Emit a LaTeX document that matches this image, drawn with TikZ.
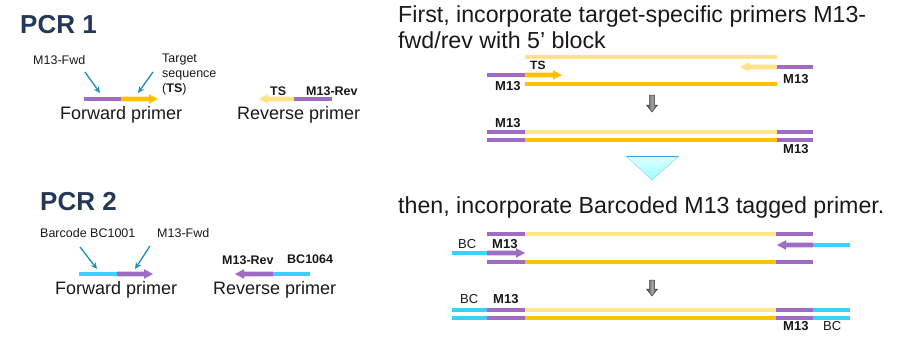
\documentclass[tikz,border=0pt]{standalone}
\usepackage{fontspec}
\setmainfont{Liberation Sans}
\usetikzlibrary{arrows.meta}
\definecolor{purp}{HTML}{9E6CC4}
\definecolor{gold}{HTML}{FFC000}
\definecolor{lgold}{HTML}{FFE38A}
\definecolor{cyanbc}{HTML}{3CCFFF}
\definecolor{ptr}{HTML}{1E8DB9}
\definecolor{navy}{HTML}{253858}
\definecolor{tribord}{HTML}{3AA8DC}
\newcommand{\dnaseg}[4]{\fill[#4] (#1,#3-2.4) rectangle (#2,#3+2.4);}
\newcommand{\dnaright}[4]{\fill[#4] (#1,#3-2.4) -- (#2-9,#3-2.4) -- (#2-9,#3-4.8) -- (#2,#3) -- (#2-9,#3+4.8) -- (#2-9,#3+2.4) -- (#1,#3+2.4) -- cycle;}
\newcommand{\dnaleft}[4]{\fill[#4] (#2,#3-2.4) -- (#1+9,#3-2.4) -- (#1+9,#3-4.8) -- (#1,#3) -- (#1+9,#3+4.8) -- (#1+9,#3+2.4) -- (#2,#3+2.4) -- cycle;}
\newcommand{\downarr}[3]{\shade[draw=black!75, left color=black!75, right color=black!75, middle color=black!35, line width=0.5pt] (#1-2.5,#2) -- (#1+2.5,#2) -- (#1+2.5,#3-7) -- (#1+5.5,#3-7) -- (#1,#3) -- (#1-5.5,#3-7) -- (#1-2.5,#3-7) -- cycle;}
\tikzset{
  labbase/.style={inner sep=0pt, anchor=base west},
  pcrtitle/.style={labbase, font=\fontsize{26}{30}\selectfont\bfseries, text=navy},
  headtxt/.style={labbase, font=\fontsize{23.2}{26}\selectfont, text=black!90},
  captxt/.style={labbase, font=\fontsize{18}{20}\selectfont, text=black!90},
  smalltxt/.style={labbase, font=\fontsize{12.5}{15}\selectfont, text=black!90},
  smallbtxt/.style={labbase, font=\fontsize{12.5}{15}\selectfont\bfseries, text=black!90},
  tagtxt/.style={labbase, font=\fontsize{13}{15}\selectfont\bfseries, text=black!90},
  tagrtxt/.style={labbase, font=\fontsize{13}{15}\selectfont, text=black!90},
  ptrarrow/.style={draw=ptr, line width=1.3pt, -{Stealth[length=6.5pt,width=6pt]}}
}
\begin{document}
\begin{tikzpicture}[x=1pt,y=-1pt]
\useasboundingbox (0,0) rectangle (897,340);

% ---------- PCR 1 ----------
\node[pcrtitle] (pcr1) at (20,33) {PCR 1};
\node[smalltxt] (m13fwd1) at (33,64) {M13-Fwd};
\node[smalltxt, align=left, anchor=north west] (ts1) at (162,54) {Target\\sequence\\(\textbf{TS})};
\dnaseg{84}{121}{99}{purp}
\dnaright{121}{158}{99}{gold}
\coordinate (p1a) at (85,72);  \coordinate (p1b) at (100,93);
\coordinate (p2a) at (153,72); \coordinate (p2b) at (138,93);
\draw[ptrarrow] (p1a) -- (p1b);
\draw[ptrarrow] (p2a) -- (p2b);
\node[captxt] (fp1) at (60,119) {Forward primer};
\dnaleft{259}{294}{99}{lgold}
\dnaseg{294}{332}{99}{purp}
\node[smallbtxt] (tsr) at (270,95) {TS};
\node[smallbtxt] (m13rev1) at (306,95) {M13-Rev};
\node[captxt] (rp1) at (237,119) {Reverse primer};

% ---------- PCR 2 ----------
\node[pcrtitle] (pcr2) at (40,210) {PCR 2};
\node[smalltxt] (bc1001) at (40,237) {Barcode BC1001};
\node[smalltxt] (m13fwd2) at (157,237) {M13-Fwd};
\dnaseg{79}{117}{274}{cyanbc}
\dnaright{117}{153}{274}{purp}
\coordinate (p3a) at (80,247);  \coordinate (p3b) at (97,269);
\coordinate (p4a) at (150,246); \coordinate (p4b) at (135,269);
\draw[ptrarrow] (p3a) -- (p3b);
\draw[ptrarrow] (p4a) -- (p4b);
\node[captxt] (fp2) at (55,294) {Forward primer};
\dnaleft{235}{273}{274}{purp}
\dnaseg{273}{310}{274}{cyanbc}
\node[smallbtxt] (m13rev2) at (222,264) {M13-Rev};
\node[smallbtxt] (bc1064) at (287,263) {BC1064};
\node[captxt] (rp2) at (213,294) {Reverse primer};

% ---------- Right: step 1 ----------
\node[headtxt] (h1) at (398,22) {First, incorporate target-specific primers M13-};
\node[headtxt] (h2) at (398,48) {fwd/rev with 5’ block};
\dnaseg{525}{777}{57}{lgold}
\dnaseg{487}{525}{75}{purp}
\dnaright{525}{562}{75}{gold}
\node[tagtxt, font=\fontsize{12}{14}\selectfont\bfseries] (ts2) at (530,69) {TS};
\node[tagtxt] (m13a) at (495,90) {M13};
\dnaleft{740}{777}{67}{lgold}
\dnaseg{777}{813}{67}{purp}
\node[tagtxt] (m13b) at (783,83) {M13};
\dnaseg{525}{777}{84}{gold}
\downarr{652}{95}{112}
\node[tagtxt] (m13c) at (495,127) {M13};
\dnaseg{487}{525}{132}{purp}
\dnaseg{525}{777}{132}{lgold}
\dnaseg{777}{813}{132}{purp}
\dnaseg{487}{525}{140}{purp}
\dnaseg{525}{777}{140}{gold}
\dnaseg{777}{813}{140}{purp}
\node[tagtxt] (m13d) at (783,153) {M13};

% triangle
\shade[top color=cyan!12, bottom color=cyan!40] (626,156) -- (679,156) -- (652,180) -- cycle;
\draw[tribord, line width=1pt] (626,156) -- (679,156);
\draw[tribord!60, line width=0.4pt] (626,156) -- (652,180) -- (679,156);

% ---------- Right: step 2 ----------
\node[headtxt] (h3) at (398,213) {then, incorporate Barcoded M13 tagged primer.};
\dnaseg{487}{525}{234}{purp}
\dnaseg{525}{776}{234}{lgold}
\dnaseg{776}{813}{234}{purp}
\node[tagrtxt] (bca) at (458,248) {BC};
\node[tagtxt] (m13e) at (492,248) {M13};
\dnaseg{452}{487}{253}{cyanbc}
\dnaright{487}{525}{253}{purp}
\dnaleft{777}{813}{245}{purp}
\dnaseg{813}{850}{245}{cyanbc}
\dnaseg{487}{525}{262}{purp}
\dnaseg{525}{776}{262}{gold}
\dnaseg{776}{813}{262}{purp}
\downarr{652}{280}{296}
\node[tagrtxt] (bcb) at (460,303) {BC};
\node[tagtxt] (m13f) at (493,303) {M13};
\dnaseg{452}{487}{310}{cyanbc}
\dnaseg{487}{525}{310}{purp}
\dnaseg{525}{776}{310}{lgold}
\dnaseg{776}{813}{310}{purp}
\dnaseg{813}{850}{310}{cyanbc}
\dnaseg{452}{487}{318}{cyanbc}
\dnaseg{487}{525}{318}{purp}
\dnaseg{525}{776}{318}{gold}
\dnaseg{776}{813}{318}{purp}
\dnaseg{813}{850}{318}{cyanbc}
\node[tagtxt] (m13g) at (783,330) {M13};
\node[tagrtxt] (bcc) at (823,330) {BC};
\end{tikzpicture}
\end{document}
